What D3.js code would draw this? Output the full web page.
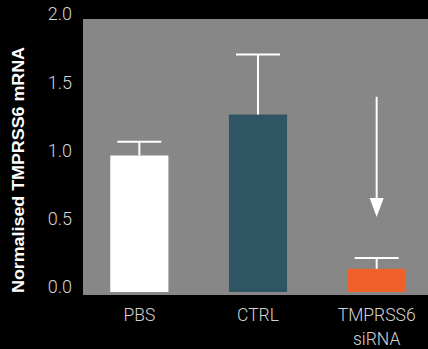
<!DOCTYPE html>
<html><head><meta charset="utf-8">
<script src="https://cdn.jsdelivr.net/npm/d3@7"></script>
<style>body{margin:0;background:#000;}svg{display:block;}</style>
</head><body>
<script>
const categories = ["PBS", "CTRL", "TMPRSS6\nsiRNA"];
const values = [1.0, 1.3, 0.17];
const errors = [1.1, 1.74, 0.25];
const colors = ["#ffffff", "#2f5464", "#f0602a"];
const yTicks = [0, 0.5, 1.0, 1.5, 2.0];
const yTitle = "Normalised TMPRSS6 mRNA";
const arrowFrom = 1.43, arrowTo = 0.55;

const W = 428, H = 349;
const svg = d3.select("body").append("svg").attr("width", W).attr("height", H);
svg.append("rect").attr("width", W).attr("height", H).attr("fill", "#000");

const y = d3.scaleLinear().domain([0, 2]).range([292, 19]);
const x = d3.scaleBand().domain(categories).range([80, 436]).paddingInner(0.51).paddingOuter(0.255);

svg.append("rect").attr("x", 83).attr("y", 19).attr("width", W - 83).attr("height", 276).attr("fill", "#878787");

// bars
svg.selectAll("rect.bar").data(categories).enter().append("rect")
  .attr("class", "bar")
  .attr("x", d => x(d)).attr("width", x.bandwidth())
  .attr("y", (d, i) => y(values[i])).attr("height", (d, i) => y(0) - y(values[i]))
  .attr("fill", (d, i) => colors[i]);

// error bars
const capW = 44;
const eg = svg.append("g").attr("stroke", "#fff").attr("stroke-width", 2);
categories.forEach((c, i) => {
  const cx = x(c) + x.bandwidth() / 2;
  eg.append("line").attr("x1", cx).attr("x2", cx).attr("y1", y(values[i])).attr("y2", y(errors[i]));
  eg.append("line").attr("x1", cx - capW / 2).attr("x2", cx + capW / 2).attr("y1", y(errors[i])).attr("y2", y(errors[i]));
});

// arrow
const ax = x(categories[2]) + x.bandwidth() / 2;
svg.append("line").attr("x1", ax).attr("x2", ax).attr("y1", y(arrowFrom)).attr("y2", y(arrowTo) - 15)
  .attr("stroke", "#fff").attr("stroke-width", 2);
svg.append("path").attr("d", `M${ax - 7},${y(arrowTo) - 19} L${ax + 7},${y(arrowTo) - 19} L${ax},${y(arrowTo)} Z`).attr("fill", "#fff");

// y axis ticks
const yAxis = d3.axisLeft(y).tickValues(yTicks).tickFormat(d3.format(".1f")).tickSize(0).tickPadding(0);
const ya = svg.append("g").attr("transform", "translate(72,0)").call(yAxis);
ya.select(".domain").remove();
ya.selectAll("text").attr("fill", "#d4d4d4").style("font-family", "Roboto, sans-serif").style("font-weight", 300).style("font-size", "18px")
  .attr("dy", "0.05em");

// x labels
const xAxis = d3.axisBottom(x).tickSize(0).tickFormat("");
const xa = svg.append("g").attr("transform", "translate(0,295)").call(xAxis);
xa.select(".domain").remove();
xa.selectAll(".tick").each(function(d) {
  const t = d3.select(this).append("text").attr("fill", "#d4d4d4").attr("text-anchor", "middle")
    .style("font-family", "Roboto, sans-serif").style("font-weight", 300).style("font-size", "17.5px");
  d.split("\n").forEach((line, j) => {
    t.append("tspan").attr("x", 0).attr("y", 26 + j * 24).text(line);
  });
});

// y title
svg.append("text").attr("transform", "translate(24,170) rotate(-90)").attr("text-anchor", "middle")
  .attr("fill", "#fff").style("font-family", "'Liberation Sans', Arial, sans-serif").style("font-weight", "bold")
  .style("font-size", "16px").attr("textLength", 246).attr("lengthAdjust", "spacingAndGlyphs").text(yTitle);
</script>
</body></html>
